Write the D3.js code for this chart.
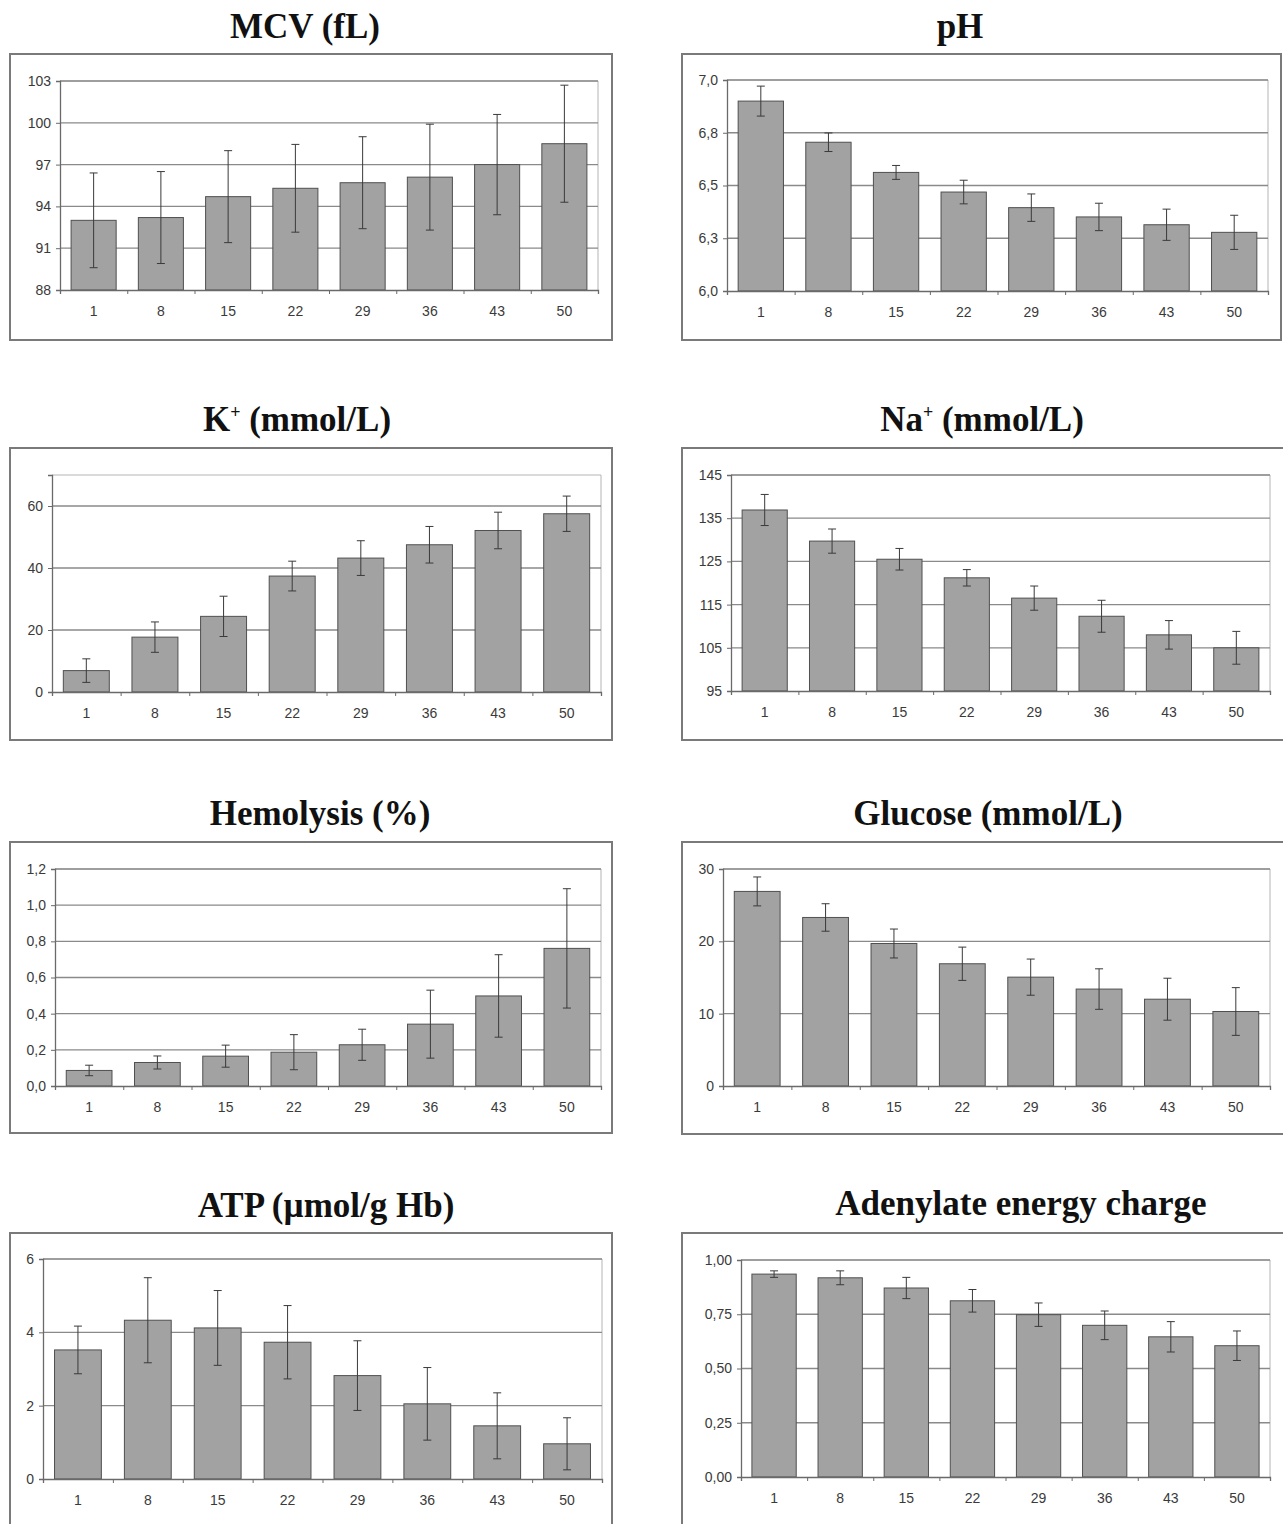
<!DOCTYPE html>
<html>
<head>
<meta charset="utf-8">
<script src="https://cdn.jsdelivr.net/npm/d3@7"></script>
<style>
  body { margin: 0; background: #fff; }
  svg { display: block; }
  .tick text { font-family: "Liberation Sans", Arial, sans-serif; font-size: 14px; fill: #3a3a3a; }
  .title { font-family: "Liberation Serif", "Times New Roman", serif; font-weight: bold; font-size: 35px; fill: #111; }
</style>
</head>
<body>
<svg id="chart" width="1283" height="1524"></svg>
<script>
// storage days (x categories)
const days = ['1', '8', '15', '22', '29', '36', '43', '50'];

// mean and SD per day
const mcvMean = [93.0, 93.2, 94.7, 95.3, 95.7, 96.1, 97.0, 98.5];
const mcvSd = [3.4, 3.3, 3.3, 3.15, 3.3, 3.8, 3.6, 4.2];
const phMean = [6.90, 6.705, 6.562, 6.469, 6.395, 6.351, 6.314, 6.278];
const phSd = [0.071, 0.044, 0.033, 0.056, 0.065, 0.065, 0.074, 0.081];
const kMean = [6.9, 17.7, 24.4, 37.4, 43.2, 47.5, 52.1, 57.5];
const kSd = [3.8, 4.9, 6.5, 4.8, 5.6, 5.9, 5.9, 5.7];
const naMean = [136.9, 129.7, 125.5, 121.2, 116.5, 112.3, 108.0, 105.0];
const naSd = [3.6, 2.8, 2.5, 1.9, 2.8, 3.7, 3.3, 3.8];
const hemoMean = [0.086, 0.13, 0.165, 0.187, 0.228, 0.342, 0.498, 0.761];
const hemoSd = [0.029, 0.036, 0.061, 0.097, 0.086, 0.188, 0.228, 0.33];
const glucMean = [26.9, 23.3, 19.7, 16.9, 15.05, 13.4, 12.0, 10.3];
const glucSd = [2.0, 1.9, 2.0, 2.3, 2.5, 2.8, 2.9, 3.3];
const atpMean = [3.52, 4.33, 4.12, 3.73, 2.82, 2.05, 1.45, 0.96];
const atpSd = [0.65, 1.16, 1.02, 1.0, 0.95, 0.99, 0.9, 0.71];
const aecMean = [0.935, 0.918, 0.871, 0.812, 0.748, 0.699, 0.646, 0.605];
const aecSd = [0.015, 0.032, 0.049, 0.052, 0.054, 0.066, 0.07, 0.068];

// y axis tick values
const mcvTicks = [88, 91, 94, 97, 100, 103];
const phTicks = [6.0, 6.25, 6.5, 6.75, 7.0];
const kTicks = [0, 20, 40, 60];
const naTicks = [95, 105, 115, 125, 135, 145];
const hemoTicks = [0, 0.2, 0.4, 0.6, 0.8, 1.0, 1.2];
const glucTicks = [0, 10, 20, 30];
const atpTicks = [0, 2, 4, 6];
const aecTicks = [0, 0.25, 0.5, 0.75, 1.0];

const loc = d3.formatLocale({ decimal: ',', thousands: '.', grouping: [3], currency: ['', ''] });

const panels = [
  { title: ['MCV (fL)'], mean: mcvMean, sd: mcvSd, ticks: mcvTicks, domain: [88, 103], fmt: loc.format('d'),
    box: [10, 54, 612, 340], plot: [60, 81, 598, 290], tx: 305, ty: 38 },
  { title: ['pH'], mean: phMean, sd: phSd, ticks: phTicks, domain: [6, 7], fmt: loc.format('.1f'),
    box: [682, 54, 1281, 340], plot: [727, 80, 1268, 291], tx: 960, ty: 38 },
  { title: ['K', '+', ' (mmol/L)'], mean: kMean, sd: kSd, ticks: kTicks, domain: [0, 70], fmt: loc.format('d'),
    box: [10, 448, 612, 740], plot: [52, 475, 601, 692], tx: 297, ty: 431 },
  { title: ['Na', '+', ' (mmol/L)'], mean: naMean, sd: naSd, ticks: naTicks, domain: [95, 145], fmt: loc.format('d'),
    box: [682, 448, 1290, 740], plot: [731, 475, 1270, 691], tx: 982, ty: 431 },
  { title: ['Hemolysis (%)'], mean: hemoMean, sd: hemoSd, ticks: hemoTicks, domain: [0, 1.2], fmt: loc.format('.1f'),
    box: [10, 842, 612, 1133], plot: [55, 869, 601, 1086], tx: 320, ty: 825 },
  { title: ['Glucose (mmol/L)'], mean: glucMean, sd: glucSd, ticks: glucTicks, domain: [0, 30], fmt: loc.format('d'),
    box: [682, 842, 1290, 1134], plot: [723, 869, 1270, 1086], tx: 988, ty: 825 },
  { title: ['ATP (µmol/g Hb)'], mean: atpMean, sd: atpSd, ticks: atpTicks, domain: [0, 6], fmt: loc.format('d'),
    box: [10, 1233, 612, 1560], plot: [43, 1259, 602, 1479], tx: 326, ty: 1217 },
  { title: ['Adenylate energy charge'], mean: aecMean, sd: aecSd, ticks: aecTicks, domain: [0, 1], fmt: loc.format('.2f'),
    box: [682, 1233, 1290, 1560], plot: [741, 1260, 1270, 1477], tx: 1021, ty: 1215 },
];

const svg = d3.select('#chart');

panels.forEach((p) => {
  const [bx0, by0, bx1, by1] = p.box;
  const [px0, py0, px1, py1] = p.plot;

  svg.append('rect')
      .attr('x', bx0).attr('y', by0)
      .attr('width', bx1 - bx0).attr('height', by1 - by0)
      .attr('fill', '#fff')
      .attr('stroke', '#7a7a7a')
      .attr('stroke-width', 2);

  const t = svg.append('text')
      .attr('class', 'title')
      .attr('x', p.tx).attr('y', p.ty)
      .attr('text-anchor', 'middle');
  if (p.title.length === 1) {
    t.text(p.title[0]);
  } else {
    t.append('tspan').text(p.title[0]);
    t.append('tspan').attr('dy', -13).attr('font-size', 18).text(p.title[1]);
    t.append('tspan').attr('dy', 13).text(p.title[2]);
  }

  const x = d3.scaleBand().domain(days).range([px0, px1]).paddingInner(0.33).paddingOuter(0.165);
  const y = d3.scaleLinear().domain(p.domain).range([py1, py0]);
  const g = svg.append('g');

  // plot area border (top / right)
  g.append('path')
      .attr('d', `M${px0},${py0}H${px1}V${py1}`)
      .attr('fill', 'none')
      .attr('stroke', '#b4b4b4');

  // gridlines
  g.selectAll('.grid')
    .data(p.ticks.filter((v) => v !== p.domain[0]))
    .join('line')
      .attr('x1', px0).attr('x2', px1)
      .attr('y1', (d) => y(d)).attr('y2', (d) => y(d))
      .attr('stroke', '#8a8a8a')
      .attr('stroke-width', 1.3);

  // bars
  g.selectAll('.bar')
    .data(p.mean)
    .join('rect')
      .attr('x', (d, i) => x(days[i]))
      .attr('y', (d) => y(d))
      .attr('width', x.bandwidth())
      .attr('height', (d) => y(p.domain[0]) - y(d))
      .attr('fill', '#a2a2a2')
      .attr('stroke', '#505050')
      .attr('stroke-width', 1);

  // error bars
  const eb = g.selectAll('.err')
    .data(p.mean)
    .join('g')
      .attr('transform', (d, i) => `translate(${x(days[i]) + x.bandwidth() / 2},0)`);
  eb.append('line')
      .attr('y1', (d, i) => y(d + p.sd[i]))
      .attr('y2', (d, i) => y(d - p.sd[i]))
      .attr('stroke', '#3a3a3a');
  eb.append('line')
      .attr('x1', -4).attr('x2', 4)
      .attr('y1', (d, i) => y(d + p.sd[i])).attr('y2', (d, i) => y(d + p.sd[i]))
      .attr('stroke', '#3a3a3a');
  eb.append('line')
      .attr('x1', -4).attr('x2', 4)
      .attr('y1', (d, i) => y(d - p.sd[i])).attr('y2', (d, i) => y(d - p.sd[i]))
      .attr('stroke', '#3a3a3a');

  // y axis
  const ya = g.append('g')
      .attr('transform', `translate(${px0},0)`)
      .call(d3.axisLeft(y).tickValues(p.ticks).tickFormat(p.fmt).tickSize(4).tickPadding(5));
  ya.select('.domain').attr('stroke', '#6a6a6a').attr('stroke-width', 1.3);
  ya.selectAll('.tick line').attr('stroke', '#6a6a6a');

  // x axis: labels centred on bars, ticks between categories
  const xa = g.append('g')
      .attr('transform', `translate(0,${py1})`)
      .call(d3.axisBottom(x).tickSize(0).tickPadding(16));
  xa.select('.domain').remove();
  const edges = d3.scaleLinear().domain([0, days.length]).range([px0, px1]);
  const xt = g.append('g')
      .attr('transform', `translate(0,${py1})`)
      .call(d3.axisBottom(edges).tickValues(d3.range(days.length + 1)).tickFormat('').tickSize(4));
  xt.select('.domain').attr('stroke', '#6a6a6a').attr('stroke-width', 1.3);
  xt.selectAll('.tick line').attr('stroke', '#6a6a6a');
});
</script>
</body>
</html>
